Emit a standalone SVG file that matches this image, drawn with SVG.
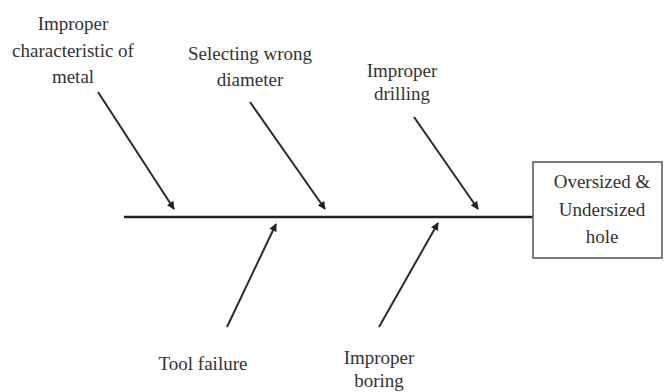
<svg xmlns="http://www.w3.org/2000/svg" width="664" height="392" viewBox="0 0 664 392">
  <defs>
    <marker id="ah" viewBox="0 0 10 10" refX="9" refY="5" markerWidth="4" markerHeight="4" orient="auto" markerUnits="strokeWidth">
      <path d="M0,0 L10,5 L0,10 Z" fill="#222"/>
    </marker>
    <style>
      text { font-size: 19px; fill: #333; text-anchor: middle; }
      .bone { stroke: #2a2a2a; stroke-width: 2; fill: none; marker-end: url(#ah); }
      .spine { stroke: #222; stroke-width: 2.5; fill: none; }
      .box { fill: #fff; stroke: #555; stroke-width: 1.5; }
    </style>
  </defs>
  <rect width="664" height="392" fill="#fff"/>
  <g id="connectors">
    <line class="spine" x1="124" y1="217" x2="533" y2="217"/>
    <line class="bone" x1="98" y1="92" x2="174" y2="209"/>
    <line class="bone" x1="250" y1="102" x2="325" y2="209"/>
    <line class="bone" x1="414" y1="117" x2="478" y2="209"/>
    <line class="bone" x1="227" y1="327" x2="276" y2="224"/>
    <line class="bone" x1="379" y1="327" x2="438" y2="223"/>
  </g>
  <g font-family="Liberation Serif, Times New Roman, serif">
  <g id="effect">
    <rect class="box" x="533" y="162" width="129" height="96"/>
    <text x="602" y="188">Oversized &amp;</text>
    <text x="602" y="216">Undersized</text>
    <text x="602" y="243">hole</text>
  </g>
  <g id="cause-metal">
    <text x="73" y="30">Improper</text>
    <text x="73" y="57">characteristic of</text>
    <text x="73" y="83">metal</text>
  </g>
  <g id="cause-diameter">
    <text x="250" y="60">Selecting wrong</text>
    <text x="250" y="86">diameter</text>
  </g>
  <g id="cause-drilling">
    <text x="402" y="77">Improper</text>
    <text x="402" y="100">drilling</text>
  </g>
  <g id="cause-tool">
    <text x="203" y="370">Tool failure</text>
  </g>
  <g id="cause-boring">
    <text x="379" y="364">Improper</text>
    <text x="379" y="387">boring</text>
  </g>
  </g>
</svg>
